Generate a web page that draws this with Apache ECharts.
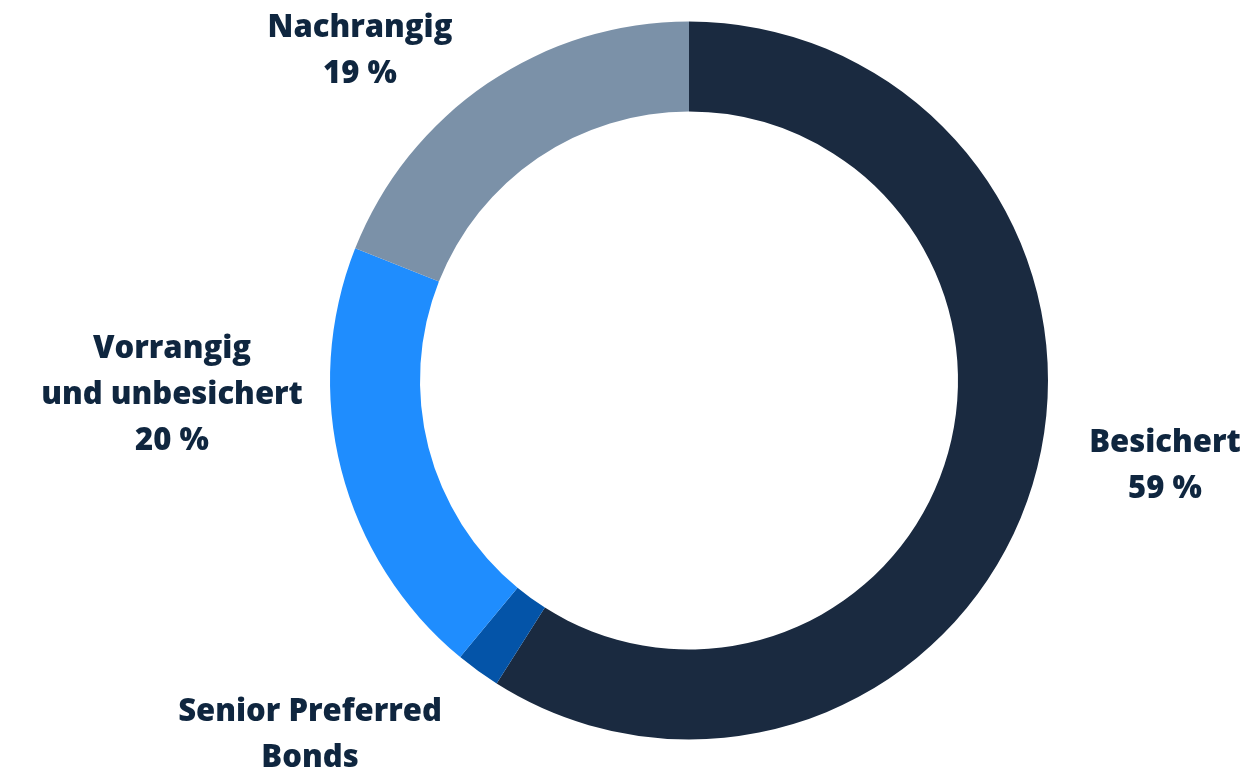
<!DOCTYPE html>
<html>
<head>
<meta charset="utf-8">
<script src="https://cdn.jsdelivr.net/npm/echarts@6/dist/echarts.min.js"></script>
<style>
  html, body { margin: 0; padding: 0; background: #ffffff; }
  #chart { width: 1247px; height: 773px; }
</style>
</head>
<body>
<div id="chart"></div>
<script>
// Bond portfolio split by seniority (share in %)
const categories = ['Besichert', 'Senior Preferred Bonds', 'Vorrangig und unbesichert', 'Nachrangig'];
const shares = [59, 2, 20, 19];
const labelTexts = [
  'Besichert\n59 %',
  'Senior Preferred\nBonds',
  'Vorrangig\nund unbesichert\n20 %',
  'Nachrangig\n19 %'
];
const colors = ['#1a2a40', '#0454a8', '#1f8dfe', '#7b91a8'];

// Label block centres, placed beside each segment
const labelSpots = [
  { x: 1165, y: 466 },
  { x: 310, y: 735 },
  { x: 172, y: 395 },
  { x: 360, y: 51 }
];

const chart = echarts.init(document.getElementById('chart'), null, { renderer: 'canvas' });

chart.setOption({
  backgroundColor: '#ffffff',
  animation: false,
  series: [{
    type: 'pie',
    center: [689, 380.5],
    radius: [269, 359],
    startAngle: 90,
    clockwise: true,
    avoidLabelOverlap: false,
    label: {
      show: true,
      position: 'outside',
      color: '#0f263f',
      fontFamily: 'Open Sans',
      fontWeight: 800,
      fontSize: 31,
      lineHeight: 46,
      align: 'center',
      formatter: p => labelTexts[p.dataIndex]
    },
    labelLine: { show: false },
    labelLayout: p => ({
      x: labelSpots[p.dataIndex].x,
      y: labelSpots[p.dataIndex].y,
      align: 'center',
      verticalAlign: 'middle'
    }),
    itemStyle: { borderWidth: 0 },
    emphasis: { disabled: true },
    data: categories.map((name, i) => ({
      name,
      value: shares[i],
      itemStyle: { color: colors[i] }
    }))
  }]
});
</script>
</body>
</html>
